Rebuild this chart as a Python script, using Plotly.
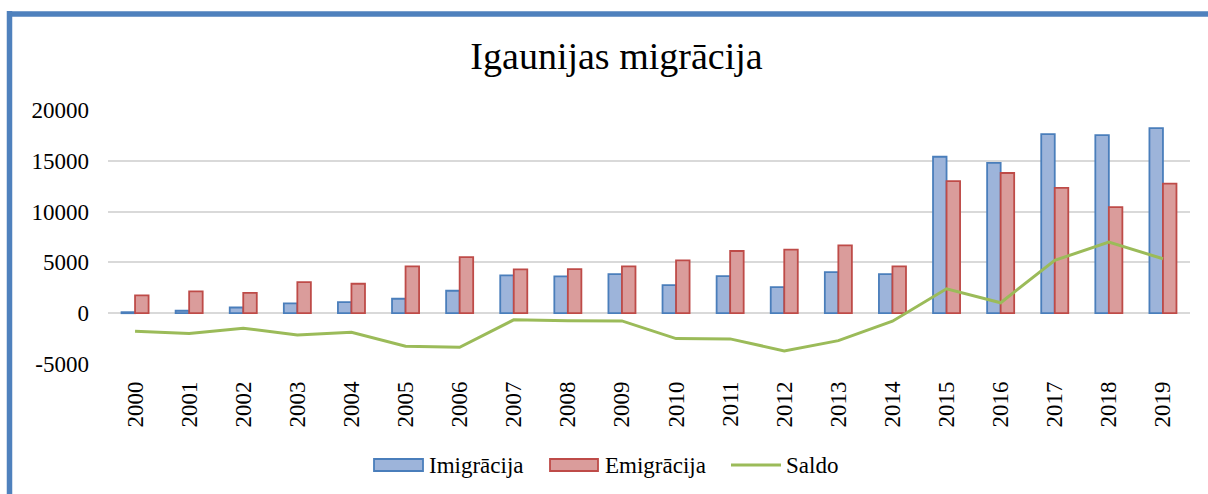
import plotly.graph_objects as go

years = [str(y) for y in range(2000, 2020)]
imigracija = [100, 240, 560, 960, 1090, 1420, 2210, 3720, 3620, 3850,
              2760, 3650, 2560, 4050, 3850, 15400, 14800, 17620, 17530, 18220]
emigracija = [1750, 2140, 2010, 3060, 2900, 4600, 5520, 4310, 4340, 4600,
              5200, 6120, 6250, 6680, 4610, 13000, 13800, 12330, 10450, 12760]
saldo = [-1780, -1990, -1480, -2150, -1880, -3250, -3350, -650, -750, -760,
         -2500, -2530, -3710, -2700, -790, 2400, 1030, 5200, 7000, 5360]
y_ticks = [-5000, 0, 5000, 10000, 15000, 20000]

W, H = 1208, 494
L, R, T, B = 108, 18, 110, 130
PW, PH = W - L - R, H - T - B

def px(x):
    return (x - L) / PW

def py(y):
    return (H - B - y) / PH

FONT = "Liberation Serif"
BLUE_FILL, BLUE_LINE = "#9db4da", "#4a7ebb"
RED_FILL, RED_LINE = "#da9c9b", "#be4b48"
GREEN = "#9bbb59"

fig = go.Figure()
fig.add_trace(go.Bar(x=years, y=imigracija, name="Imigrācija",
                     marker=dict(color=BLUE_FILL, line=dict(color=BLUE_LINE, width=1.8)),
                     showlegend=False))
fig.add_trace(go.Bar(x=years, y=emigracija, name="Emigrācija",
                     marker=dict(color=RED_FILL, line=dict(color=RED_LINE, width=1.8)),
                     showlegend=False))
fig.add_trace(go.Scatter(x=years, y=saldo, name="Saldo", mode="lines",
                         line=dict(color=GREEN, width=3), showlegend=False))

shapes = [
    # chart border (left and top visible)
    dict(type="line", xref="paper", yref="paper", x0=px(9.5), x1=px(9.5),
         y0=py(11), y1=py(H + 5), line=dict(color="#4f81bd", width=5.5)),
    dict(type="line", xref="paper", yref="paper", x0=px(7), x1=px(W + 5),
         y0=py(14), y1=py(14), line=dict(color="#4f81bd", width=5.5)),
    # legend symbols
    dict(type="rect", xref="paper", yref="paper", x0=px(374), x1=px(423),
         y0=py(459), y1=py(471), fillcolor=BLUE_FILL, line=dict(color=BLUE_LINE, width=1.8)),
    dict(type="rect", xref="paper", yref="paper", x0=px(550), x1=px(598),
         y0=py(459), y1=py(471), fillcolor=RED_FILL, line=dict(color=RED_LINE, width=1.8)),
    dict(type="line", xref="paper", yref="paper", x0=px(731), x1=px(781),
         y0=py(465), y1=py(465), line=dict(color=GREEN, width=3)),
]

annotations = []
for label, xpos in [("Imigrācija", 427), ("Emigrācija", 603), ("Saldo", 784)]:
    annotations.append(dict(text=label, xref="paper", yref="paper", x=px(xpos), y=py(465),
                            xanchor="left", yanchor="middle", showarrow=False,
                            font=dict(family=FONT, size=23, color="black")))

fig.update_layout(
    width=W, height=H,
    margin=dict(l=L, r=R, t=T, b=B),
    paper_bgcolor="white", plot_bgcolor="white",
    barmode="group", bargap=0.5, bargroupgap=0,
    font=dict(family=FONT, size=23, color="black"),
    title=dict(text="Igaunijas migrācija", x=616.5 / W, xanchor="center",
               y=1 - 56 / H, yanchor="middle", xref="container", yref="container",
               font=dict(family=FONT, size=38, color="black")),
    xaxis=dict(type="category", tickangle=-90, showgrid=False, showline=False,
               ticks="", tickfont=dict(family=FONT, size=23), ticklabelstandoff=12),
    yaxis=dict(range=[-5000, 20000], tickvals=y_ticks, ticktext=[str(v) for v in y_ticks],
               showgrid=True, gridcolor="#d9d9d9", gridwidth=1.5,
               zeroline=True, zerolinecolor="#d9d9d9", zerolinewidth=1.5,
               showline=False, ticks="", tickfont=dict(family=FONT, size=23),
               ticklabelstandoff=18),
    shapes=shapes,
    annotations=annotations,
    showlegend=False,
)

fig.write_html("out.html",
               config={"displayModeBar": False},
               post_script="document.body.style.margin='0';document.body.style.padding='0';")
